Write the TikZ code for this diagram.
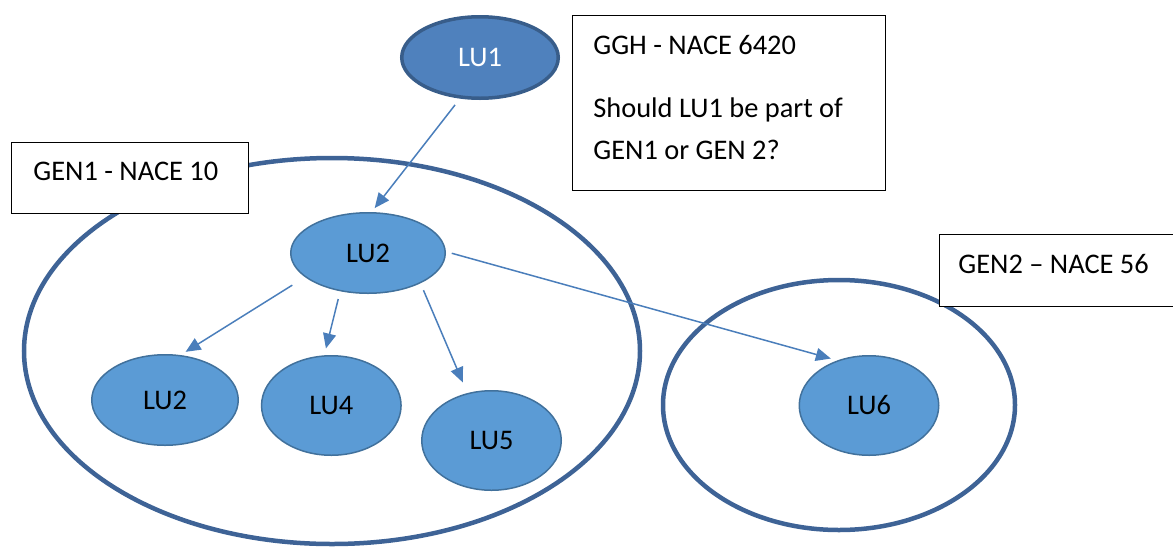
\documentclass[tikz,border=0pt]{standalone}
\usepackage{fontspec}
\setmainfont{Carlito}
\usetikzlibrary{shapes.geometric,arrows.meta}
\definecolor{ringblue}{HTML}{3E6396}
\definecolor{luonefill}{HTML}{4F81BD}
\definecolor{luoneline}{HTML}{385D8A}
\definecolor{lufill}{HTML}{5B9BD5}
\definecolor{luline}{HTML}{41719C}
\definecolor{arrowblue}{HTML}{4A7EBB}
\tikzset{
  txt/.style={font=\fontsize{14.2pt}{17pt}\selectfont, inner sep=0pt, anchor=base west},
  ring/.style={ellipse, draw=ringblue, line width=2.25pt, inner sep=0pt},
  labelbox/.style={rectangle, draw=black, fill=white, line width=0.5pt, inner sep=0pt},
  lunode/.style={ellipse, draw=luline, fill=lufill, line width=0.75pt, inner sep=0pt,
    font=\fontsize{14.2pt}{17pt}\selectfont, text=black},
  conn/.style={draw=arrowblue, line width=0.75pt, -{Triangle[length=7.5pt,width=6.5pt]}}
}
\begin{document}
\begin{tikzpicture}[x=0.5pt,y=-0.5pt]
\useasboundingbox (0,0) rectangle (1173,547);
% group rings
\node[ring, minimum width=308pt, minimum height=193pt] (gen1ring) at (332,351) {};
\node[ring, minimum width=176pt, minimum height=125pt] (gen2ring) at (839,405) {};
% label boxes
\node[labelbox, minimum width=118.5pt, minimum height=35.5pt] (gen1box) at (129.5,177.5) {};
\node[txt] (gen1txt) at (33,180) {GEN1 - NACE 10};
\node[labelbox, minimum width=156.6pt, minimum height=87.5pt] (gghbox) at (729.35,102.5) {};
\node[txt] (gghone) at (593,54.3) {GGH - NACE 6420};
\node[txt] (gghtwo) at (593,117.3) {Should LU1 be part of};
\node[txt] (gghthree) at (593,159.3) {GEN1 or GEN 2?};
\node[labelbox, minimum width=121pt, minimum height=36pt] (gen2box) at (1060,270) {};
\node[txt] (gen2txt) at (958,273) {GEN2 – NACE 56};
% units
\node[ellipse, draw=luoneline, fill=luonefill, line width=1.75pt, inner sep=0pt,
  minimum width=78.25pt, minimum height=40.75pt, text=white,
  font=\fontsize{14.2pt}{17pt}\selectfont] (lu1) at (480,57.5) {LU1};
\node[lunode, minimum width=77.25pt, minimum height=40.25pt] (lu2) at (368,253) {LU2};
\node[lunode, minimum width=73.25pt, minimum height=45.25pt] (lu2b) at (165,400) {LU2};
\node[lunode, minimum width=69.75pt, minimum height=49.75pt] (lu4) at (331.3,405.5) {LU4};
\node[lunode, minimum width=69.75pt, minimum height=49.75pt] (lu5) at (491.5,440.5) {LU5};
\node[lunode, minimum width=69.75pt, minimum height=49.75pt] (lu6) at (869,405.5) {LU6};
% connectors
\draw[conn, shorten <=4pt, shorten >=2.5pt] (lu1.244.6) -- (lu2.85);
\draw[conn, shorten <=7.5pt, shorten >=3pt] (lu2.201.3) -- (lu2b.71.6);
\draw[conn, shorten <=4pt, shorten >=3.5pt] (lu2.234.6) -- (lu4.98.2);
\draw[conn, shorten <=3.75pt, shorten >=5.8pt] (lu2.330) -- (lu5.117.9);
\draw[conn, shorten <=3pt, shorten >=3.4pt] (lu2.1.4) -- (lu6.125.5);
\end{tikzpicture}
\end{document}
